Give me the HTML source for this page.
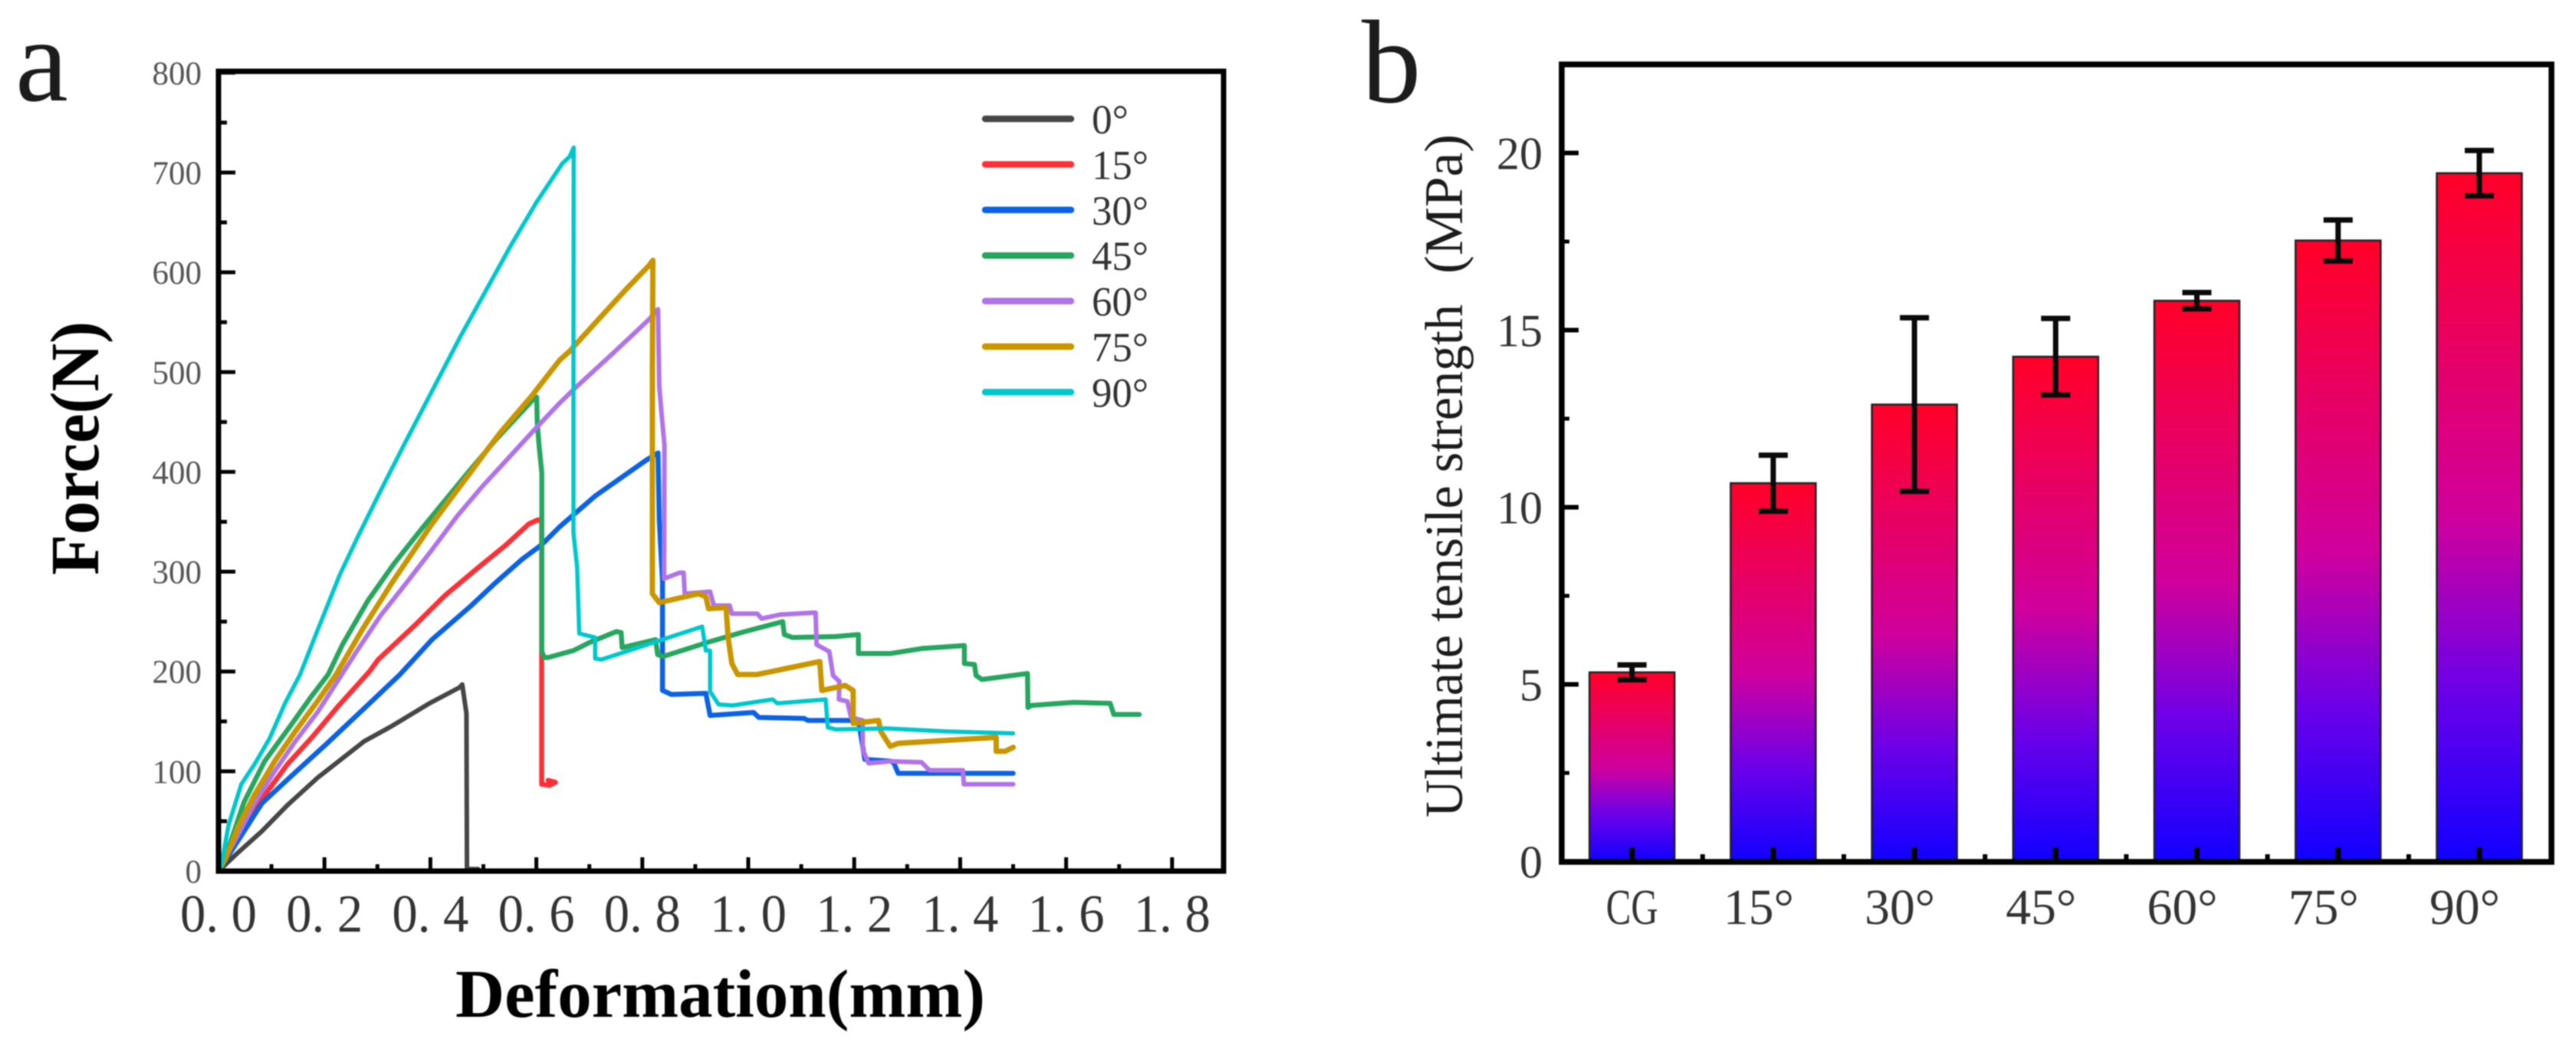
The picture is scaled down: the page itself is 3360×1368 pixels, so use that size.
<!DOCTYPE html>
<html lang="en">
<head>
<meta charset="utf-8">
<title>Force-deformation curves and ultimate tensile strength</title>
<style>
html,body{margin:0;padding:0;background:#fff;width:3360px;height:1368px;overflow:hidden}
svg{display:block;filter:blur(0.7px)}
text{font-family:"Liberation Serif","Noto Serif CJK SC",serif;fill:#1c1c1c}
</style>
</head>
<body>
<svg id="figure" xmlns="http://www.w3.org/2000/svg" width="3360" height="1368" viewBox="0 0 3360 1368">
  <defs>
    <linearGradient id="barGradient" x1="0" y1="0" x2="0" y2="1">
      <stop offset="0" stop-color="#ff0028"/>
      <stop offset="0.5" stop-color="#d0009c"/>
      <stop offset="0.75" stop-color="#6c00e8"/>
      <stop offset="1" stop-color="#1000ff"/>
    </linearGradient>
  </defs>
  <rect width="3360" height="1368" fill="#fff"/>
  <text x="20" y="131" font-size="155">a</text>
  <text x="1776" y="133" font-size="155">b</text>
  <text transform="translate(128 750) rotate(-90)" font-size="90" font-weight="700" textLength="331" lengthAdjust="spacingAndGlyphs" style="fill:#000">Force(N)</text>
  <text x="594" y="1326" font-size="89" font-weight="700" textLength="691" lengthAdjust="spacingAndGlyphs" style="fill:#000">Deformation(mm)</text>
  <text transform="translate(1907 1066) rotate(-90)" font-size="70" textLength="669" lengthAdjust="spacingAndGlyphs">Ultimate tensile strength</text>
  <text transform="translate(1907 357) rotate(-90)" font-size="71" textLength="182" lengthAdjust="spacingAndGlyphs">(MPa)</text>
  <g id="panelA"></g>
  <g id="panelB"></g>
</svg>
<script>
// Panel a data
const forceTicks = [0,100,200,300,400,500,600,700,800];
const forceMinorTicks = [50,150,250,350,450,550,650,750];
const deformTicks = [0,0.2,0.4,0.6,0.8,1.0,1.2,1.4,1.6,1.8];
const deformTickLabels = ['0. 0','0. 2','0. 4','0. 6','0. 8','1. 0','1. 2','1. 4','1. 6','1. 8'];
const deformMinorTicks = [0.1,0.3,0.5,0.7,0.9,1.1,1.3,1.5,1.7];
const seriesNames = ['0°','15°','30°','45°','60°','75°','90°'];

const deform0 = [0,0.0337,0.082,0.13,0.188,0.275,0.326,0.398,0.455,0.46,0.468,0.469,0.49];
const force0 = [0,17,40,66,94,130,145,168,184,187,158,2,2];

const deform15 = [0,0.02,0.048,0.087,0.13,0.178,0.227,0.285,0.3015,0.374,0.427,0.49,0.543,0.586,0.603,0.61,0.61,0.625,0.636,0.622];
const force15 = [0,20,46,76,107,135,166,200,212,248,276,304,327,348,352,350,87,86,89,91];

const deform30 = [0,0.0337,0.082,0.145,0.203,0.275,0.3425,0.403,0.475,0.523,0.572,0.61,0.644,0.7115,0.808,0.8297,0.832,0.838,0.838,0.855,0.92,0.928,1.01,1.02,1.105,1.113,1.208,1.22,1.27,1.275,1.283,1.5];
const force30 = [0,28,68,99,127,163,197,232,265,289,312,327,345,376,412,419,352,291,181,177,178,156,159,154,153,151,151,112,110,108,98,98];

const deform45 = [0,0.015,0.048,0.087,0.135,0.174,0.207,0.234,0.282,0.33,0.379,0.427,0.475,0.523,0.572,0.591,0.6006,0.6016,0.6054,0.6103,0.6103,0.615,0.622,0.67,0.7,0.751,0.76,0.762,0.825,0.829,0.839,0.928,0.987,1.065,1.068,1.084,1.165,1.208,1.208,1.268,1.327,1.408,1.408,1.427,1.43,1.441,1.527,1.528,1.534,1.613,1.683,1.69,1.738];
const force45 = [0,17,69,110,145,174,197,227,271,307,340,371,402,432,460,471,475,450,425,399,220,214,214,221,229,240,239,224,232,217,215,230,239,250,237,234,235,237,218,218,223,226,208,207,196,192,198,164,166,169,168,157,157];

const deform60 = [0,0.0386,0.0676,0.106,0.145,0.188,0.2195,0.263,0.306,0.355,0.403,0.451,0.499,0.5475,0.596,0.644,0.673,0.745,0.813,0.8297,0.832,0.8369,0.8418,0.841,0.87,0.878,0.88,0.928,0.935,0.965,0.969,1.017,1.025,1.06,1.127,1.129,1.153,1.16,1.172,1.171,1.187,1.194,1.216,1.216,1.227,1.268,1.327,1.342,1.405,1.407,1.5];
const force60 = [0,38,68,100,130,160,186,222,256,289,322,356,386,414,442,469,484,519,553,563,486,455,427,293,299,299,278,280,266,266,258,258,253,257,259,227,220,196,190,172,170,154,151,122,108,110,109,101,101,87,87];

const deform75 = [0,0.0145,0.0386,0.0676,0.106,0.145,0.188,0.222,0.2725,0.33,0.403,0.441,0.475,0.504,0.533,0.591,0.644,0.663,0.721,0.7695,0.813,0.82,0.819,0.819,0.832,0.906,0.92,0.925,0.958,0.962,0.969,0.98,1.017,1.135,1.139,1.183,1.198,1.198,1.246,1.25,1.268,1.283,1.468,1.468,1.485,1.5];
const force75 = [0,14,46,76,110,140,171,197,243,291,348,375,399,420,440,476,512,521,555,583,607,612,500,278,269,278,275,263,264,234,208,197,197,210,181,186,181,148,151,140,125,128,134,120,120,124];

const deform90 = [0,0.005,0.019,0.043,0.068,0.0965,0.1255,0.154,0.186,0.229,0.263,0.306,0.35,0.403,0.456,0.504,0.552,0.6,0.649,0.663,0.6705,0.67,0.67,0.677,0.681,0.711,0.711,0.723,0.913,0.92,0.928,0.928,0.944,0.97,1.046,1.055,1.146,1.15,1.165,1.26,1.371,1.5];
const force90 = [0,5,46,87,107,133,168,197,240,297,335,381,427,481,535,581,627,670,709,716,725,500,339,304,238,234,213,212,245,221,221,180,167,166,172,168,172,144,142,143,140,138];

// Panel b data
const categories = ['CG','15°','30°','45°','60°','75°','90°'];
const strengthMeans = [5.34,10.68,12.9,14.25,15.83,17.53,19.43];
const strengthErrors = [0.21,0.79,2.45,1.08,0.23,0.58,0.64];
const strengthTicks = [0,5,10,15,20];
const strengthMinorTicks = [2.5,7.5,12.5,17.5];
const categoryMinorTicks = [1.5,2.5,3.5,4.5,5.5,6.5];

const NS = 'http://www.w3.org/2000/svg';
function make(parent, tag, attrs, content) {
  const el = document.createElementNS(NS, tag);
  for (const k in attrs) el.setAttribute(k, attrs[k]);
  if (content !== undefined) el.textContent = content;
  parent.appendChild(el);
  return el;
}

// ---------- Panel a ----------
const A = {left:285, right:1596, top:93, bottom:1136};
const xA = d => 285 + 691 * d;
const yA = v => 1136 - 1.3015 * v;
const panelA = document.getElementById('panelA');
const seriesColors = ['#464646','#ff3035','#0b62e4','#27a65f','#b073e8','#c99600','#00c7cb'];
const seriesWidths = [6,6.5,6.5,6.5,6,7,5.5];
const seriesX = [deform0,deform15,deform30,deform45,deform60,deform75,deform90];
const seriesY = [force0,force15,force30,force45,force60,force75,force90];

seriesNames.forEach((name, i) => {
  const pts = seriesX[i].map((d, j) => xA(d).toFixed(1) + ',' + yA(seriesY[i][j]).toFixed(1)).join(' ');
  const line = make(panelA, 'polyline', {points:pts, fill:'none', stroke:seriesColors[i], 'stroke-width':seriesWidths[i], 'stroke-linejoin':'round', 'stroke-linecap':'round'});
  
  
});

const frameA = make(panelA, 'rect', {x:A.left, y:A.top, width:A.right-A.left, height:A.bottom-A.top, fill:'none', stroke:'#000', 'stroke-width':7});



forceTicks.forEach(v => {
  const t = make(panelA, 'line', {x1:A.left, x2:A.left+22, y1:yA(v), y2:yA(v), stroke:'#000', 'stroke-width':5});
  
  
  const l = make(panelA, 'text', {x:263, y:yA(v)+15, 'font-size':43, 'text-anchor':'end', style:'fill:#555'}, String(v));
  
  
});
forceMinorTicks.forEach(v => {
  const t = make(panelA, 'line', {x1:A.left, x2:A.left+11, y1:yA(v), y2:yA(v), stroke:'#000', 'stroke-width':5});
  
  
});
deformTicks.forEach((d, i) => {
  const t = make(panelA, 'line', {x1:xA(d), x2:xA(d), y1:A.bottom, y2:A.bottom-18, stroke:'#000', 'stroke-width':5});
  
  
  const l = make(panelA, 'text', {x:xA(d)-50, y:1215, 'font-size':70, textLength:100, lengthAdjust:'spacingAndGlyphs', style:'white-space:pre;fill:#333'}, deformTickLabels[i]);
  
  
});
deformMinorTicks.forEach(d => {
  const t = make(panelA, 'line', {x1:xA(d), x2:xA(d), y1:A.bottom, y2:A.bottom-9, stroke:'#000', 'stroke-width':5});
  
  
});

const legendRowY = i => 155 + 59.4 * i;
seriesNames.forEach((name, i) => {
  const ln = make(panelA, 'line', {x1:1285, x2:1397, y1:legendRowY(i), y2:legendRowY(i), stroke:seriesColors[i], 'stroke-width':8.5, 'stroke-linecap':'round'});
  
  
  const tx = make(panelA, 'text', {x:1424, y:legendRowY(i)+19, 'font-size':54, textLength:i === 0 ? 48 : 74, lengthAdjust:'spacingAndGlyphs', style:'fill:#333'}, name);
  
  
});

// ---------- Panel b ----------
const B = {left:2037, right:3328, top:84, bottom:1124};
const xB = i => 2128.7 + 184.2 * i;
const yB = v => 1123.5 - 46.2 * v;
const barWidth = 111;
const panelB = document.getElementById('panelB');

categories.forEach((c, i) => {
  const bar = make(panelB, 'rect', {x:xB(i)-barWidth/2, y:yB(strengthMeans[i]), width:barWidth, height:yB(0)-yB(strengthMeans[i]), fill:'url(#barGradient)', stroke:'#222', 'stroke-width':2.5});
  
  
});
categories.forEach((c, i) => {
  const hi = yB(strengthMeans[i] + strengthErrors[i]);
  const lo = yB(strengthMeans[i] - strengthErrors[i]);
  const cx = xB(i);
  const g = make(panelB, 'g', {stroke:'#0a0a0a', 'stroke-width':7});
  
  
  make(g, 'line', {x1:cx, x2:cx, y1:hi, y2:lo});
  make(g, 'line', {x1:cx-19, x2:cx+19, y1:hi, y2:hi});
  make(g, 'line', {x1:cx-19, x2:cx+19, y1:lo, y2:lo});
});

const frameB = make(panelB, 'rect', {x:B.left, y:B.top, width:B.right-B.left, height:B.bottom-B.top, fill:'none', stroke:'#000', 'stroke-width':7.5});



strengthTicks.forEach(v => {
  const l = make(panelB, 'text', {x:2012, y:yB(v)+21, 'font-size':60, 'text-anchor':'end', style:'fill:#333'}, String(v));
  
  
  if (v === 0) return;
  const t = make(panelB, 'line', {x1:B.left, x2:B.left+22, y1:yB(v), y2:yB(v), stroke:'#000', 'stroke-width':6});
  
  
});
strengthMinorTicks.forEach(v => {
  const t = make(panelB, 'line', {x1:B.left, x2:B.left+10, y1:yB(v), y2:yB(v), stroke:'#000', 'stroke-width':5});
  
  
});
categories.forEach((c, i) => {
  const t = make(panelB, 'line', {x1:xB(i), x2:xB(i), y1:B.bottom, y2:B.bottom-19, stroke:'#000', 'stroke-width':7});
  
  
  const attrs = i === 0
    ? {x:xB(i), y:1205, 'font-size':66, 'text-anchor':'middle', textLength:68, lengthAdjust:'spacingAndGlyphs', style:'fill:#333'}
    : {x:xB(i)-65, y:1205, 'font-size':66, textLength:92, lengthAdjust:'spacingAndGlyphs', style:'fill:#333'};
  const l = make(panelB, 'text', attrs, c);
  
  
});
categoryMinorTicks.forEach(p => {
  const t = make(panelB, 'line', {x1:xB(p-1), x2:xB(p-1), y1:B.bottom, y2:B.bottom-10, stroke:'#000', 'stroke-width':6});
  
  
});
</script>
</body>
</html>
